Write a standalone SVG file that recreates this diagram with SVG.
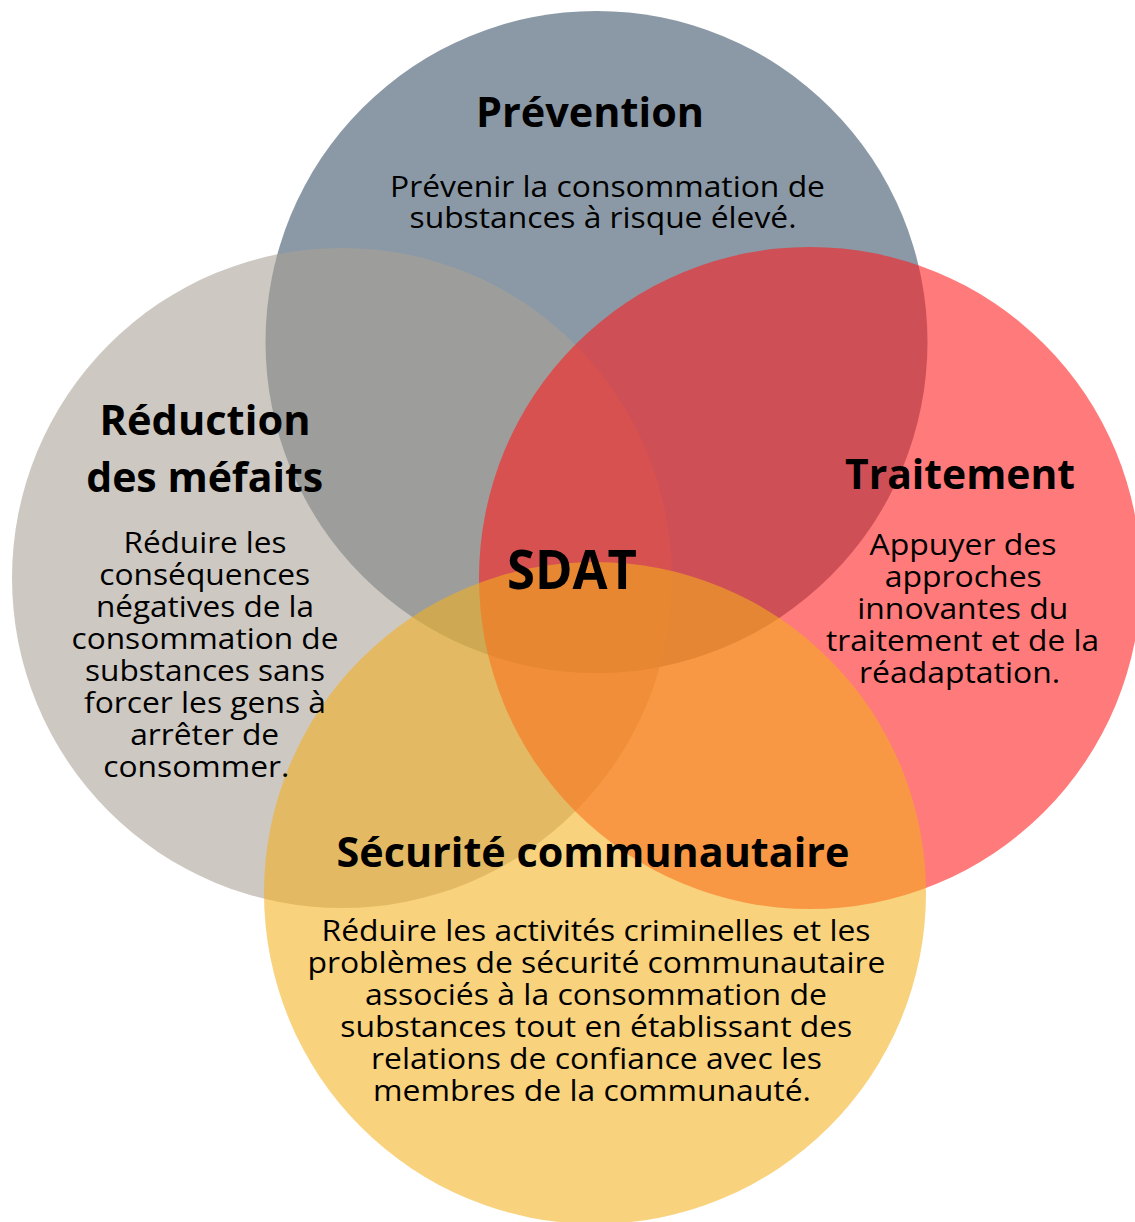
<svg xmlns="http://www.w3.org/2000/svg" width="1135" height="1222" viewBox="0 0 1135 1222">
  <style>
    .h { font-family: "Open Sans", "Liberation Sans", sans-serif; font-weight: 700; font-size: 42px; fill: #000; text-anchor: middle; }
    .b { font-family: "Open Sans", "Liberation Sans", sans-serif; font-weight: 400; font-size: 30px; fill: #000; text-anchor: middle; }
    .core { font-family: "Open Sans", "Liberation Sans", sans-serif; font-weight: 700; font-size: 53px; fill: #000; text-anchor: middle; }
  </style>
  <rect width="1135" height="1222" fill="#ffffff"/>

  <!-- Four overlapping pillars, drawn back to front -->
  <g id="circles">
    <g id="node-prevention"><circle cx="596.5" cy="342" r="331" fill="#8b99a6"/></g>
    <g id="node-reduction"><circle cx="342" cy="578" r="330" fill="#aaa296" fill-opacity="0.59"/></g>
    <g id="node-traitement"><circle cx="810" cy="578" r="331" fill="#ff1a1a" fill-opacity="0.58"/></g>
    <g id="node-securite"><circle cx="595" cy="893" r="331" fill="#f4b01d" fill-opacity="0.57"/></g>
  </g>

  <!-- Labels sit above every circle -->
  <g id="label-prevention">
    <text class="h" x="590" y="127" textLength="228" lengthAdjust="spacingAndGlyphs">Prévention</text>
    <text class="b" x="607.5" y="196.5" textLength="435" lengthAdjust="spacingAndGlyphs">Prévenir la consommation de</text>
    <text class="b" x="603" y="228" textLength="387" lengthAdjust="spacingAndGlyphs">substances à risque élevé.</text>
  </g>

  <g id="label-reduction">
    <text class="h" x="205" y="435" textLength="211" lengthAdjust="spacingAndGlyphs">Réduction</text>
    <text class="h" x="204.7" y="491.5" textLength="237" lengthAdjust="spacingAndGlyphs">des méfaits</text>
    <text class="b" x="205" y="553" textLength="163" lengthAdjust="spacingAndGlyphs">Réduire les</text>
    <text class="b" x="204.7" y="585" textLength="211" lengthAdjust="spacingAndGlyphs">conséquences</text>
    <text class="b" x="205" y="617" textLength="218" lengthAdjust="spacingAndGlyphs">négatives de la</text>
    <text class="b" x="205" y="649" textLength="267" lengthAdjust="spacingAndGlyphs">consommation de</text>
    <text class="b" x="205" y="681" textLength="240" lengthAdjust="spacingAndGlyphs">substances sans</text>
    <text class="b" x="205" y="713" textLength="242" lengthAdjust="spacingAndGlyphs">forcer les gens à</text>
    <text class="b" x="204.7" y="745" textLength="149" lengthAdjust="spacingAndGlyphs">arrêter de</text>
    <text class="b" x="196.3" y="777" textLength="186" lengthAdjust="spacingAndGlyphs">consommer.</text>
  </g>

  <g id="label-traitement">
    <text class="h" x="960" y="489" textLength="230" lengthAdjust="spacingAndGlyphs">Traitement</text>
    <text class="b" x="963" y="555" textLength="187" lengthAdjust="spacingAndGlyphs">Appuyer des</text>
    <text class="b" x="963.3" y="587" textLength="157" lengthAdjust="spacingAndGlyphs">approches</text>
    <text class="b" x="962.8" y="619" textLength="211" lengthAdjust="spacingAndGlyphs">innovantes du</text>
    <text class="b" x="962.5" y="651" textLength="273" lengthAdjust="spacingAndGlyphs">traitement et de la</text>
    <text class="b" x="959.6" y="683" textLength="201" lengthAdjust="spacingAndGlyphs">réadaptation.</text>
  </g>

  <g id="label-securite">
    <text class="h" x="593" y="866.5" textLength="513" lengthAdjust="spacingAndGlyphs">Sécurité communautaire</text>
    <text class="b" x="596" y="941" textLength="549" lengthAdjust="spacingAndGlyphs">Réduire les activités criminelles et les</text>
    <text class="b" x="596.4" y="973" textLength="578" lengthAdjust="spacingAndGlyphs">problèmes de sécurité communautaire</text>
    <text class="b" x="596" y="1005" textLength="462" lengthAdjust="spacingAndGlyphs">associés à la consommation de</text>
    <text class="b" x="596.3" y="1037" textLength="512" lengthAdjust="spacingAndGlyphs">substances tout en établissant des</text>
    <text class="b" x="596.5" y="1069" textLength="451" lengthAdjust="spacingAndGlyphs">relations de confiance avec les</text>
    <text class="b" x="592" y="1101" textLength="438" lengthAdjust="spacingAndGlyphs">membres de la communauté.</text>
  </g>

  <!-- Shared centre -->
  <g id="node-sdat">
    <text class="core" x="572" y="588.5" textLength="130" lengthAdjust="spacingAndGlyphs">SDAT</text>
  </g>
</svg>
